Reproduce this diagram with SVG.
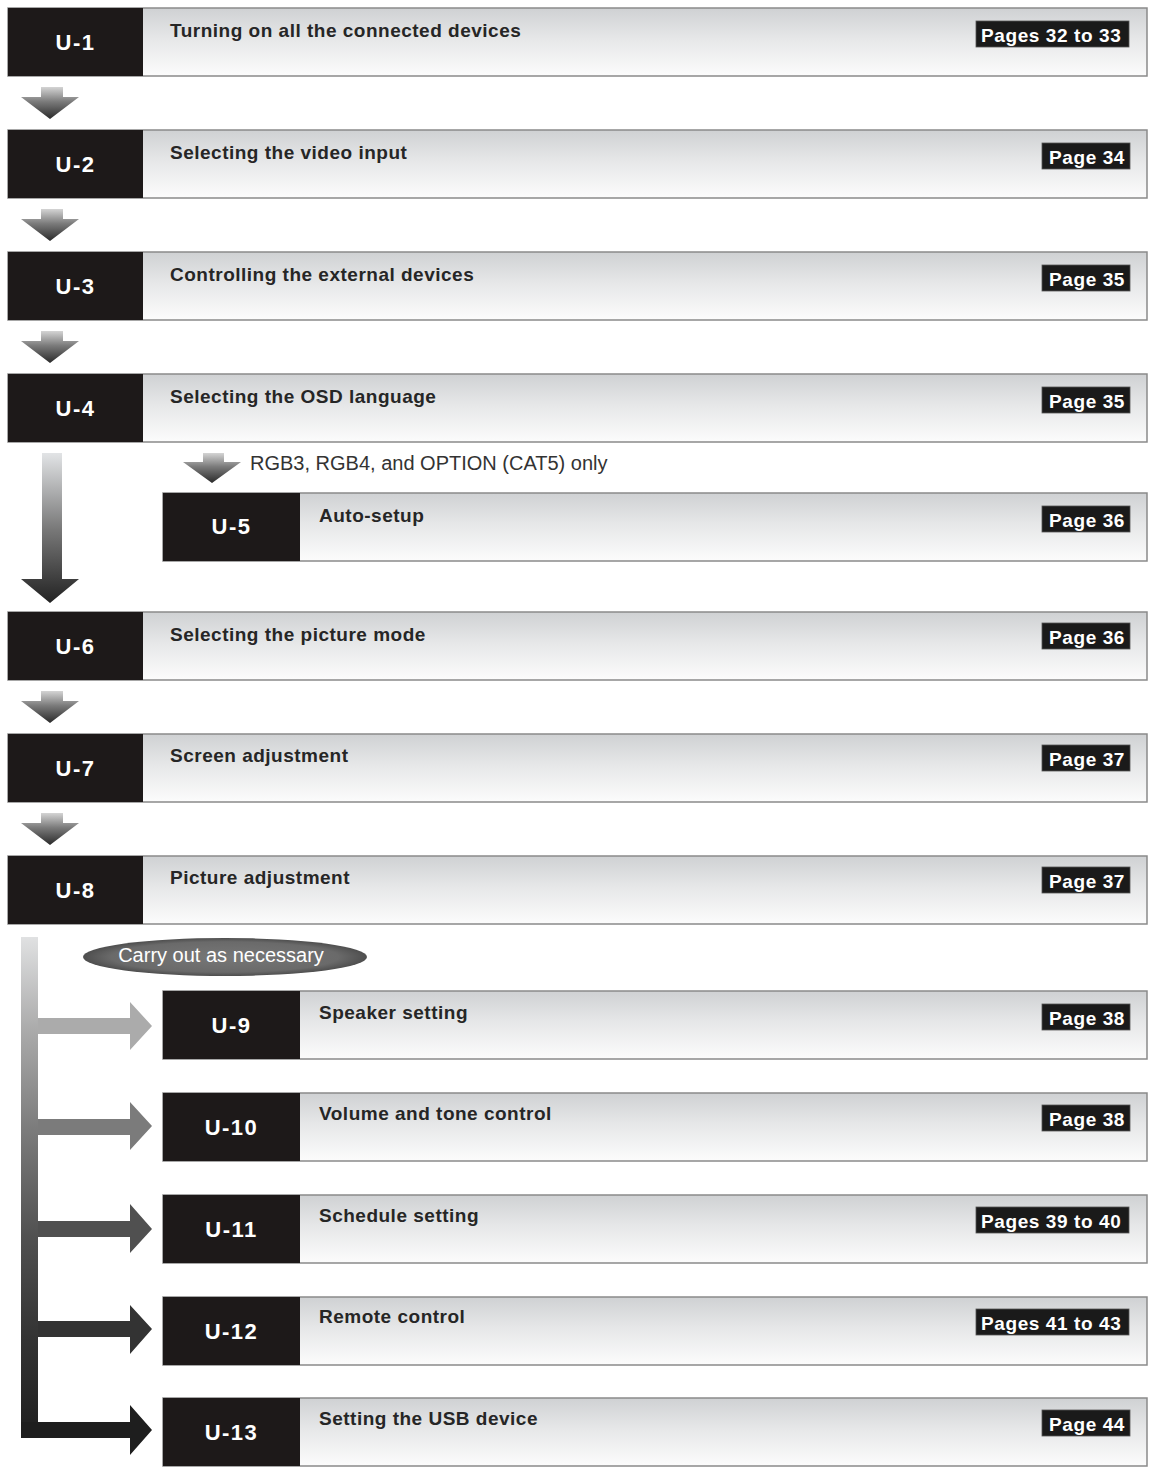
<svg xmlns="http://www.w3.org/2000/svg" width="1151" height="1470" viewBox="0 0 1151 1470">
<defs>
  <linearGradient id="rowbg" x1="0" y1="0" x2="0" y2="1">
    <stop offset="0" stop-color="#cfd1d3"/>
    <stop offset="0.45" stop-color="#e6e7e8"/>
    <stop offset="1" stop-color="#fcfcfc"/>
  </linearGradient>
  <linearGradient id="smallArrow" x1="0" y1="0" x2="0" y2="1">
    <stop offset="0" stop-color="#d4d4d4"/>
    <stop offset="0.45" stop-color="#7c7c7c"/>
    <stop offset="1" stop-color="#2a2a2a"/>
  </linearGradient>
  <linearGradient id="bigArrow" x1="0" y1="0" x2="0" y2="1">
    <stop offset="0" stop-color="#e2e4e6"/>
    <stop offset="0.5" stop-color="#7a7a7a"/>
    <stop offset="1" stop-color="#222"/>
  </linearGradient>
  <linearGradient id="bar" gradientUnits="userSpaceOnUse" x1="0" y1="937" x2="0" y2="1440">
    <stop offset="0" stop-color="#e0e1e2"/>
    <stop offset="0.18" stop-color="#acacac"/>
    <stop offset="0.38" stop-color="#7c7c7c"/>
    <stop offset="0.6" stop-color="#505050"/>
    <stop offset="0.8" stop-color="#333"/>
    <stop offset="1" stop-color="#1e1e1e"/>
  </linearGradient>
  <radialGradient id="ell" cx="0.5" cy="0.5" r="0.5">
    <stop offset="0" stop-color="#777"/>
    <stop offset="0.8" stop-color="#6a6a6a"/>
    <stop offset="1" stop-color="#4e4e4e"/>
  </radialGradient>
</defs>
<style>
  .box { fill: url(#rowbg); stroke: #8a8a8a; stroke-width: 1.5; }
  .dark { fill: #1d1919; }
  .num { font-family: "Liberation Sans", Arial, sans-serif; font-weight: bold; font-size: 22px; fill: #fff; text-anchor: middle; letter-spacing: 1.5px; }
  .title { font-family: "Liberation Sans", Arial, sans-serif; font-weight: bold; font-size: 19px; fill: #262626; letter-spacing: 0.5px; }
  .pbox { fill: #1a1a1a; stroke: #555; stroke-width: 0.8; }
  .ptext { font-family: "Liberation Sans", Arial, sans-serif; font-weight: bold; font-size: 19px; fill: #fff; letter-spacing: 0.6px; }
  .note { font-family: "Liberation Sans", Arial, sans-serif; font-size: 20px; fill: #333; }
  .elltext { font-family: "Liberation Sans", Arial, sans-serif; font-size: 20px; fill: #fff; text-anchor: middle; }
</style>
<rect width="1151" height="1470" fill="#fff"/>

<g id="connectors">
  <path d="M41 87 H63 V97 H79 L50 119 L21 97 H41 Z" fill="url(#smallArrow)"/>
  <path d="M41 209 H63 V219 H79 L50 241 L21 219 H41 Z" fill="url(#smallArrow)"/>
  <path d="M41 331 H63 V341 H79 L50 363 L21 341 H41 Z" fill="url(#smallArrow)"/>
  <path d="M42 453 H62 V579 H79 L50 603 L21 579 H42 Z" fill="url(#bigArrow)"/>
  <path d="M203 453 H224 V462 H241 L212 483 L183 462 H203 Z" fill="url(#smallArrow)"/>
  <path d="M41 691 H63 V701 H79 L50 723 L21 701 H41 Z" fill="url(#smallArrow)"/>
  <path d="M41 813 H63 V823 H79 L50 845 L21 823 H41 Z" fill="url(#smallArrow)"/>
  <path d="M21 937 H38 V1438 H21 Z" fill="url(#bar)"/>
  <path d="M38 1018 H130 V1002 L152 1026 L130 1050 V1034 H38 Z" fill="#ababab"/>
  <path d="M38 1119 H130 V1102 L152 1126 L130 1150 V1135 H38 Z" fill="#7b7b7b"/>
  <path d="M38 1221 H130 V1204 L152 1229 L130 1253 V1237 H38 Z" fill="#505050"/>
  <path d="M38 1321 H130 V1305 L152 1329 L130 1354 V1337 H38 Z" fill="#333"/>
  <path d="M21 1422 H130 V1405 L152 1430 L130 1455 V1438 H21 Z" fill="#1e1e1e"/>
</g>

<text class="note" x="250" y="470">RGB3, RGB4, and OPTION (CAT5) only</text>
<g id="note-ellipse">
  <ellipse cx="225" cy="957" rx="142" ry="19" fill="url(#ell)"/>
  <text class="elltext" x="221" y="962">Carry out as necessary</text>
</g>

<g id="U-1">
  <rect class="box" x="8" y="8" width="1139" height="68"/>
  <rect class="dark" x="8" y="8" width="135" height="68"/>
  <text class="num" x="75.5" y="50">U-1</text>
  <text class="title" x="170" y="37">Turning on all the connected devices</text>
  <rect class="pbox" x="976" y="21" width="153" height="26"/>
  <text class="ptext" x="981" y="42">Pages 32 to 33</text>
</g>
<g id="U-2">
  <rect class="box" x="8" y="130" width="1139" height="68"/>
  <rect class="dark" x="8" y="130" width="135" height="68"/>
  <text class="num" x="75.5" y="172">U-2</text>
  <text class="title" x="170" y="159">Selecting the video input</text>
  <rect class="pbox" x="1042" y="143" width="88" height="26"/>
  <text class="ptext" x="1049" y="164">Page 34</text>
</g>
<g id="U-3">
  <rect class="box" x="8" y="252" width="1139" height="68"/>
  <rect class="dark" x="8" y="252" width="135" height="68"/>
  <text class="num" x="75.5" y="294">U-3</text>
  <text class="title" x="170" y="281">Controlling the external devices</text>
  <rect class="pbox" x="1042" y="265" width="88" height="26"/>
  <text class="ptext" x="1049" y="286">Page 35</text>
</g>
<g id="U-4">
  <rect class="box" x="8" y="374" width="1139" height="68"/>
  <rect class="dark" x="8" y="374" width="135" height="68"/>
  <text class="num" x="75.5" y="416">U-4</text>
  <text class="title" x="170" y="403">Selecting the OSD language</text>
  <rect class="pbox" x="1042" y="387" width="88" height="26"/>
  <text class="ptext" x="1049" y="408">Page 35</text>
</g>
<g id="U-5">
  <rect class="box" x="163" y="493" width="984" height="68"/>
  <rect class="dark" x="163" y="493" width="137" height="68"/>
  <text class="num" x="231.5" y="534">U-5</text>
  <text class="title" x="319" y="522">Auto-setup</text>
  <rect class="pbox" x="1042" y="506" width="88" height="26"/>
  <text class="ptext" x="1049" y="527">Page 36</text>
</g>
<g id="U-6">
  <rect class="box" x="8" y="612" width="1139" height="68"/>
  <rect class="dark" x="8" y="612" width="135" height="68"/>
  <text class="num" x="75.5" y="654">U-6</text>
  <text class="title" x="170" y="641">Selecting the picture mode</text>
  <rect class="pbox" x="1042" y="623" width="88" height="26"/>
  <text class="ptext" x="1049" y="644">Page 36</text>
</g>
<g id="U-7">
  <rect class="box" x="8" y="734" width="1139" height="68"/>
  <rect class="dark" x="8" y="734" width="135" height="68"/>
  <text class="num" x="75.5" y="776">U-7</text>
  <text class="title" x="170" y="762">Screen adjustment</text>
  <rect class="pbox" x="1042" y="745" width="88" height="26"/>
  <text class="ptext" x="1049" y="766">Page 37</text>
</g>
<g id="U-8">
  <rect class="box" x="8" y="856" width="1139" height="68"/>
  <rect class="dark" x="8" y="856" width="135" height="68"/>
  <text class="num" x="75.5" y="898">U-8</text>
  <text class="title" x="170" y="884">Picture adjustment</text>
  <rect class="pbox" x="1042" y="867" width="88" height="26"/>
  <text class="ptext" x="1049" y="888">Page 37</text>
</g>
<g id="U-9">
  <rect class="box" x="163" y="991" width="984" height="68"/>
  <rect class="dark" x="163" y="991" width="137" height="68"/>
  <text class="num" x="231.5" y="1033">U-9</text>
  <text class="title" x="319" y="1019">Speaker setting</text>
  <rect class="pbox" x="1042" y="1004" width="88" height="26"/>
  <text class="ptext" x="1049" y="1025">Page 38</text>
</g>
<g id="U-10">
  <rect class="box" x="163" y="1093" width="984" height="68"/>
  <rect class="dark" x="163" y="1093" width="137" height="68"/>
  <text class="num" x="231.5" y="1135">U-10</text>
  <text class="title" x="319" y="1120">Volume and tone control</text>
  <rect class="pbox" x="1042" y="1105" width="88" height="26"/>
  <text class="ptext" x="1049" y="1126">Page 38</text>
</g>
<g id="U-11">
  <rect class="box" x="163" y="1195" width="984" height="68"/>
  <rect class="dark" x="163" y="1195" width="137" height="68"/>
  <text class="num" x="231.5" y="1237">U-11</text>
  <text class="title" x="319" y="1222">Schedule setting</text>
  <rect class="pbox" x="976" y="1207" width="153" height="26"/>
  <text class="ptext" x="981" y="1228">Pages 39 to 40</text>
</g>
<g id="U-12">
  <rect class="box" x="163" y="1297" width="984" height="68"/>
  <rect class="dark" x="163" y="1297" width="137" height="68"/>
  <text class="num" x="231.5" y="1339">U-12</text>
  <text class="title" x="319" y="1323">Remote control</text>
  <rect class="pbox" x="976" y="1309" width="153" height="26"/>
  <text class="ptext" x="981" y="1330">Pages 41 to 43</text>
</g>
<g id="U-13">
  <rect class="box" x="163" y="1398" width="984" height="68"/>
  <rect class="dark" x="163" y="1398" width="137" height="68"/>
  <text class="num" x="231.5" y="1440">U-13</text>
  <text class="title" x="319" y="1425">Setting the USB device</text>
  <rect class="pbox" x="1042" y="1410" width="88" height="26"/>
  <text class="ptext" x="1049" y="1431">Page 44</text>
</g>
</svg>
